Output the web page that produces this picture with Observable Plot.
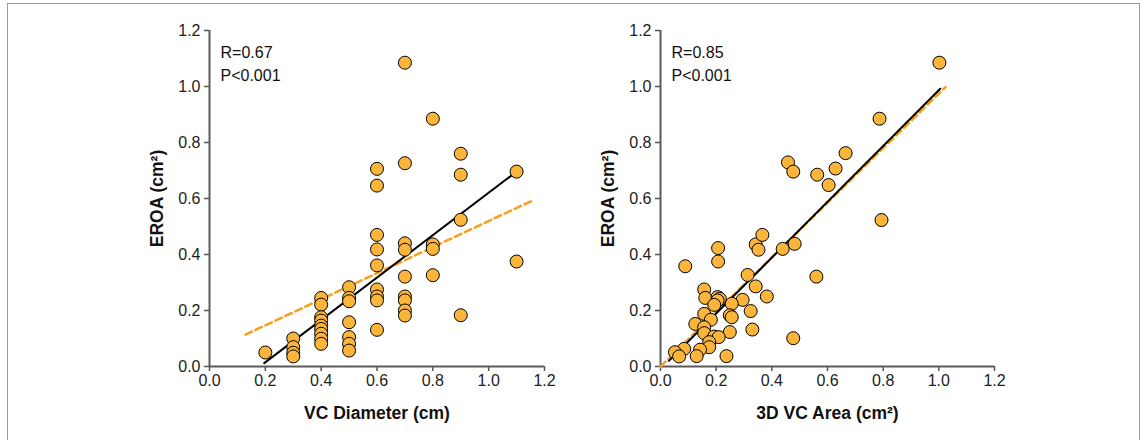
<!DOCTYPE html>
<html>
<head>
<meta charset="utf-8">
<script src="https://cdn.jsdelivr.net/npm/d3@7"></script>
<script src="https://cdn.jsdelivr.net/npm/@observablehq/plot@0.6"></script>
<style>
  html, body { margin: 0; padding: 0; background: #fff; }
  #wrap { position: relative; width: 1148px; height: 440px; overflow: hidden; font-family: "Liberation Sans", Arial, sans-serif; }
  #frame { position: absolute; left: 7px; top: 3px; width: 1131px; height: 460px; border: 1.5px solid #9a9a9a; pointer-events: none; z-index: 5; }
  .panel { position: absolute; top: 0; }
  .panel svg { overflow: visible; }
  g[aria-label="x-axis label"] text, g[aria-label="y-axis label"] text { font-weight: bold; font-size: 17.5px; fill: #111; }
  g[aria-label="x-axis tick"], g[aria-label="y-axis tick"] { stroke: #555; stroke-width: 1.5; }
  g[aria-label="x-axis tick label"] text, g[aria-label="y-axis tick label"] text { fill: #222; }
</style>
</head>
<body>
<div id="wrap"><div id="frame"></div></div>
<script>
// ---- Data ----
const xTicks = [0, 0.2, 0.4, 0.6, 0.8, 1.0, 1.2];
const yTicks = [0, 0.2, 0.4, 0.6, 0.8, 1.0, 1.2];

// Left panel: VC Diameter (cm) vs EROA (cm²)
const diamX = [0.2,
  0.3, 0.3, 0.3, 0.3,
  0.4, 0.4, 0.4, 0.4, 0.4, 0.4, 0.4, 0.4, 0.4,
  0.5, 0.5, 0.5, 0.5, 0.5, 0.5, 0.5,
  0.6, 0.6, 0.6, 0.6, 0.6, 0.6, 0.6, 0.6, 0.6,
  0.7, 0.7, 0.7, 0.7, 0.7, 0.7, 0.7, 0.7, 0.7,
  0.8, 0.8, 0.8, 0.8,
  0.9, 0.9, 0.9, 0.9,
  1.1, 1.1];
const diamY = [0.05,
  0.10, 0.069, 0.049, 0.036,
  0.245, 0.221, 0.176, 0.164, 0.146, 0.134, 0.117, 0.099, 0.081,
  0.283, 0.245, 0.233, 0.158, 0.105, 0.081, 0.057,
  0.706, 0.646, 0.47, 0.418, 0.361, 0.275, 0.25, 0.236, 0.131,
  1.085, 0.726, 0.44, 0.417, 0.321, 0.25, 0.236, 0.2, 0.182,
  0.885, 0.436, 0.42, 0.326,
  0.76, 0.685, 0.524, 0.183,
  0.696, 0.375];
const diamFitX = [0.196, 1.1];
const diamFitY = [0.012, 0.696];
const diamRefX = [0.129, 1.162];
const diamRefY = [0.114, 0.595];
const diamStats = ["R=0.67", "P<0.001"];

// Right panel: 3D VC Area (cm²) vs EROA (cm²)
const areaX = [1.002, 0.787, 0.665, 0.629, 0.458, 0.477, 0.563, 0.604,
  0.794, 0.089, 0.207, 0.207, 0.342, 0.352, 0.366, 0.439, 0.482, 0.560,
  0.313, 0.342, 0.382, 0.295, 0.256, 0.324, 0.249, 0.256, 0.330, 0.249,
  0.477, 0.157, 0.161, 0.205, 0.213, 0.205, 0.193, 0.157, 0.181, 0.125,
  0.157, 0.157, 0.193, 0.209, 0.175, 0.175, 0.142, 0.085, 0.052, 0.067,
  0.130, 0.237];
const areaY = [1.085, 0.885, 0.762, 0.707, 0.729, 0.696, 0.685, 0.648,
  0.523, 0.358, 0.423, 0.375, 0.436, 0.417, 0.47, 0.42, 0.438, 0.321,
  0.327, 0.286, 0.25, 0.238, 0.224, 0.198, 0.183, 0.176, 0.132, 0.123,
  0.101, 0.275, 0.245, 0.248, 0.242, 0.236, 0.22, 0.188, 0.167, 0.152,
  0.14, 0.119, 0.107, 0.105, 0.087, 0.069, 0.06, 0.063, 0.051, 0.036,
  0.037, 0.037];
const areaFitX = [0.03, 1.005];
const areaFitY = [0.02, 0.992];
const areaRefX = [0.0, 1.024];
const areaRefY = [0.0, 0.998];
const areaStats = ["R=0.85", "P<0.001"];

// ---- Styles ----
const dotFill = "#FCB53B";
const refColor = "#F6A01C";
const axisGray = "#5a5a5a";

function panel({xs, ys, fitX, fitY, refX, refY, stats, xLabel, width, marginLeft, marginRight}) {
  const pts = xs.map((x, i) => ({x, y: ys[i]}));
  const fit = fitX.map((x, i) => ({x, y: fitY[i]}));
  const ref = refX.map((x, i) => ({x, y: refY[i]}));
  return Plot.plot({
    width, height: 440,
    marginLeft, marginRight, marginTop: 30, marginBottom: 74,
    style: {background: "transparent", fontFamily: "'Liberation Sans', Arial, sans-serif", fontSize: "16px", overflow: "visible"},
    x: {domain: [0, 1.2]},
    y: {domain: [0, 1.2]},
    marks: [
      Plot.axisX({ticks: xTicks, tickSize: 5, tickPadding: 3, tickFormat: d3.format(".1f"),
        label: xLabel, labelAnchor: "center", labelOffset: 52, labelArrow: "none"}),
      Plot.axisY({ticks: yTicks, tickSize: 5, tickPadding: 4, tickFormat: d3.format(".1f"),
        label: "EROA (cm²)", labelAnchor: "center", labelOffset: 59, labelArrow: "none"}),
      Plot.ruleX([0], {stroke: axisGray, strokeWidth: 2}),
      Plot.ruleY([0], {stroke: axisGray, strokeWidth: 2}),
      Plot.line(ref, {x: "x", y: "y", stroke: refColor, strokeWidth: 2.5, strokeDasharray: "7,4"}),
      Plot.line(fit, {x: "x", y: "y", stroke: "#000", strokeWidth: 2}),
      Plot.dot(pts, {x: "x", y: "y", r: 6.5, fill: dotFill, stroke: "#000", strokeWidth: 1, fillOpacity: 1}),
      Plot.text([stats.join("\n")], {frameAnchor: "top-left", dx: 11, dy: 12, textAnchor: "start",
        lineAnchor: "top", lineHeight: 1.4, fontSize: 16, fill: "#111"})
    ]
  });
}

const wrap = document.getElementById("wrap");
const left = panel({xs: diamX, ys: diamY, fitX: diamFitX, fitY: diamFitY, refX: diamRefX, refY: diamRefY,
  stats: diamStats, xLabel: "VC Diameter (cm)", width: 574, marginLeft: 209, marginRight: 30});
const right = panel({xs: areaX, ys: areaY, fitX: areaFitX, fitY: areaFitY, refX: areaRefX, refY: areaRefY,
  stats: areaStats, xLabel: "3D VC Area (cm²)", width: 574, marginLeft: 86, marginRight: 154});
const d1 = document.createElement("div"); d1.className = "panel"; d1.style.left = "0px"; d1.appendChild(left);
const d2 = document.createElement("div"); d2.className = "panel"; d2.style.left = "574px"; d2.appendChild(right);
wrap.appendChild(d1); wrap.appendChild(d2);
</script>
</body>
</html>
